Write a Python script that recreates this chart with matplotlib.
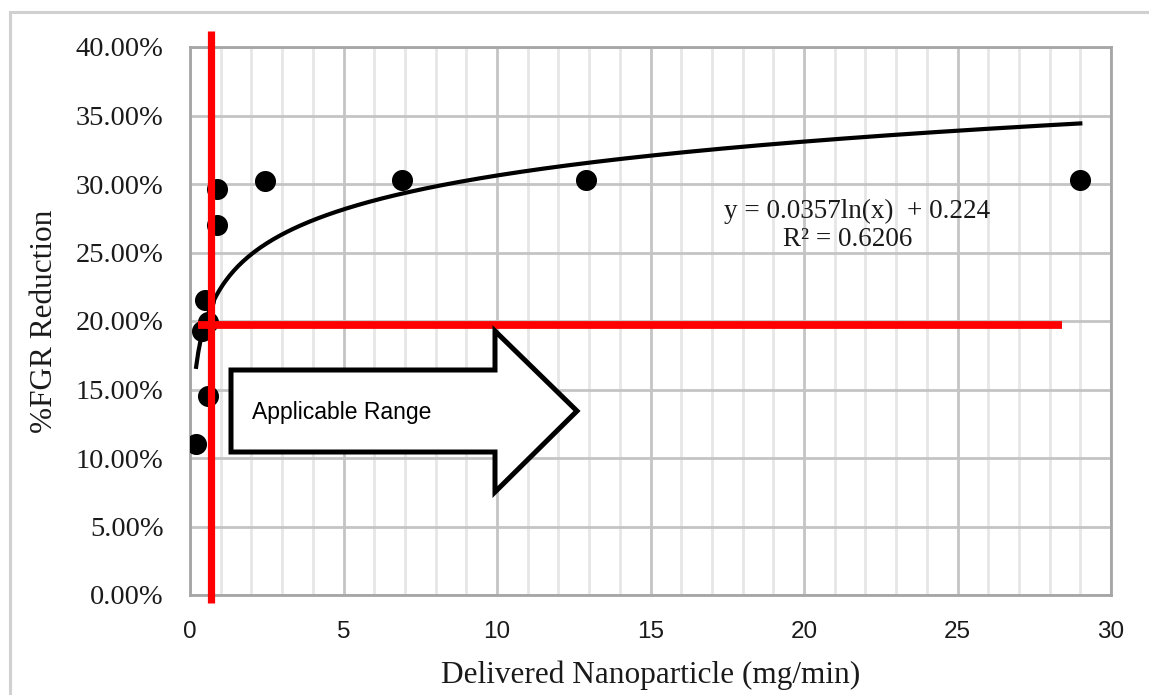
import matplotlib
matplotlib.use("Agg")
import matplotlib.pyplot as plt
import numpy as np
from matplotlib.patches import Polygon, Rectangle
from matplotlib.ticker import FuncFormatter, MultipleLocator

# ---- data ----
delivered_np = [0.2, 0.6, 0.4, 0.6, 0.5, 0.87, 0.87, 2.45, 6.9, 12.9, 29.0]
fgr_reduction = [0.110, 0.145, 0.193, 0.199, 0.215, 0.270, 0.296, 0.302, 0.303, 0.303, 0.303]
trend_a = 0.0357
trend_b = 0.224
threshold_x = 0.67
threshold_y = 0.197
threshold_x_span = [0.26, 28.4]
x_ticks = [0, 5, 10, 15, 20, 25, 30]
y_ticks = [0.0, 0.05, 0.10, 0.15, 0.20, 0.25, 0.30, 0.35, 0.40]

W, H = 1149, 695
fig = plt.figure(figsize=(W / 100, H / 100), dpi=100)
ax = fig.add_axes([190 / W, 1 - 595 / H, (1111 - 190) / W, (595 - 47) / H])

# outer border (right and bottom edges fall outside the image)
fig.patches.append(Rectangle((10 / W, -0.1), 1.2, 1.1 - 12 / H, transform=fig.transFigure,
                             fill=False, edgecolor="#d0d0d0", linewidth=2.2, zorder=0))

ax.set_xlim(0, 30)
ax.set_ylim(0, 0.40)
ax.set_xticks(x_ticks)
ax.set_yticks(y_ticks)
ax.xaxis.set_minor_locator(MultipleLocator(1))
ax.yaxis.set_major_formatter(FuncFormatter(lambda v, p: f"{v*100:.2f}%"))

ax.grid(which="minor", axis="x", color="#e6e6e6", linewidth=2.0, zorder=0)
ax.grid(which="major", axis="both", color="#c4c4c4", linewidth=2.0, zorder=0)
ax.set_axisbelow(True)
for side in ["top", "right", "bottom", "left"]:
    ax.spines[side].set_color("#a6a6a6")
    ax.spines[side].set_linewidth(2.0)
ax.tick_params(which="both", length=0)
ax.tick_params(axis="y", pad=19)
ax.tick_params(axis="x", pad=19)
for lab in ax.get_yticklabels():
    lab.set_fontfamily("Liberation Serif")
    lab.set_fontsize(20.5)
    lab.set_color("#1a1a1a")
for lab in ax.get_xticklabels():
    lab.set_fontfamily("Liberation Sans")
    lab.set_fontsize(17.5)
    lab.set_color("#1a1a1a")

ax.set_ylabel("%FGR Reduction", fontfamily="Liberation Serif", fontsize=22.5,
              color="#1a1a1a", labelpad=12)
ax.set_xlabel("Delivered Nanoparticle (mg/min)", fontfamily="Liberation Serif",
              fontsize=22.5, color="#1a1a1a", labelpad=12)

# trendline
xt = np.linspace(min(delivered_np), max(delivered_np), 400)
ax.plot(xt, trend_a * np.log(xt) + trend_b, color="black", linewidth=3.0, zorder=3)

# scatter
ax.scatter(delivered_np, fgr_reduction, s=230, color="black", zorder=4, linewidths=0)

# red threshold lines
ax.plot([threshold_x, threshold_x], [-0.006, 0.412], color="#ff0000", linewidth=5.2,
        zorder=5, clip_on=False, solid_capstyle="butt")
ax.plot(threshold_x_span, [threshold_y, threshold_y], color="#ff0000", linewidth=5.6,
        zorder=5, solid_capstyle="butt")

# block arrow (axes fraction geometry)
def fx(px):
    return (px - 190) / (1111 - 190)

def fy(py):
    return (595 - py) / (595 - 47)

arrow_pts = [(fx(231), fy(370)), (fx(495), fy(370)), (fx(495), fy(331)),
             (fx(577), fy(411)), (fx(495), fy(492)), (fx(495), fy(452)),
             (fx(231), fy(452))]
ax.add_patch(Polygon(arrow_pts, closed=True, transform=ax.transAxes, facecolor="white",
                     edgecolor="black", linewidth=3.6, zorder=6, joinstyle="miter"))
ax.text(fx(252), fy(413), "Applicable Range", transform=ax.transAxes,
        fontfamily="Liberation Sans", fontsize=16.5, color="black", va="center",
        ha="left", zorder=7)

# equation
ax.text(fx(857), fy(211), "y = 0.0357ln(x)  + 0.224", transform=ax.transAxes,
        fontfamily="Liberation Serif", fontsize=19.5, color="#1a1a1a", ha="center",
        va="center", zorder=7)
ax.text(fx(848), fy(240), "R² = 0.6206", transform=ax.transAxes,
        fontfamily="Liberation Serif", fontsize=19.5, color="#1a1a1a", ha="center",
        va="center", zorder=7)

fig.savefig("out.png", dpi=100)
